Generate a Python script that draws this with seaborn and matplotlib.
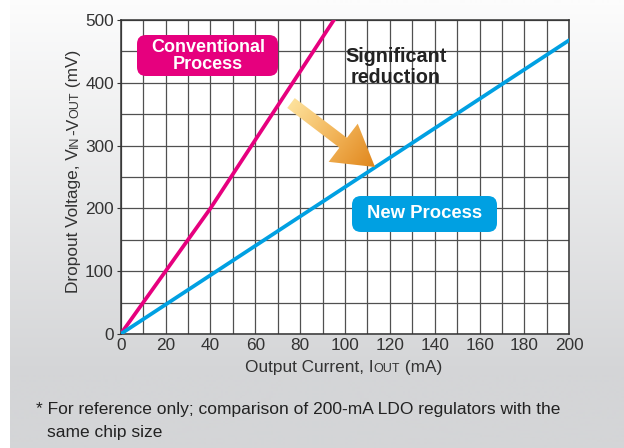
import numpy as np
import pandas as pd
import matplotlib
matplotlib.use("Agg")
import matplotlib.pyplot as plt
from matplotlib.patches import Polygon, FancyBboxPatch
from matplotlib.colors import LinearSegmentedColormap
import seaborn as sns

# ---------------- data ----------------
conv_current = [0, 40, 100]
conv_dropout = [0, 200, 527]
new_current = [0, 100, 200]
new_dropout = [0, 234, 468]
x_ticks = [0, 20, 40, 60, 80, 100, 120, 140, 160, 180, 200]
y_ticks = [0, 100, 200, 300, 400, 500]

df = pd.DataFrame({
    "current": conv_current + new_current,
    "dropout": conv_dropout + new_dropout,
    "process": ["Conventional Process"] * len(conv_current) + ["New Process"] * len(new_current),
})

PINK = "#e6007e"
BLUE = "#00a0e2"

sns.set_theme(style="white")
plt.rcParams["font.family"] = ["Liberation Sans", "DejaVu Sans"]

W, H = 624, 448
fig = plt.figure(figsize=(W / 100, H / 100), dpi=100)
fig.patch.set_facecolor("white")

# background card with vertical gradient
bg = fig.add_axes([10 / W, 0, 1 - 10 / W, 1], zorder=-5)
rows = np.arange(H)
frac = np.clip((rows - 5) / 370.0, 0, 1)
top = np.array([252, 252, 252]) / 255
bot = np.array([212, 213, 215]) / 255
grad = top[None, :] * (1 - frac[:, None]) + bot[None, :] * frac[:, None]
bg.imshow(grad[:, None, :], aspect="auto", extent=[0, 1, 0, 1], origin="upper")
bg.set_axis_off()

# main axes
x0p, x1p, y0p, y1p = 120.7, 569.3, 334.0, 20.0
ax = fig.add_axes([x0p / W, (H - y0p) / H, (x1p - x0p) / W, (y0p - y1p) / H])
ax.set_facecolor("white")

sns.lineplot(data=df, x="current", y="dropout", hue="process",
             palette={"Conventional Process": PINK, "New Process": BLUE},
             linewidth=2.7, legend=False, ax=ax, zorder=3)

TS = 12.4
ax.set_xlim(0, 200)
ax.set_ylim(0, 500)
ax.set_xticks(x_ticks)
ax.set_yticks(y_ticks)
ax.set_xticks(np.arange(0, 201, 10), minor=True)
ax.set_yticks(np.arange(0, 501, 50), minor=True)
ax.grid(True, which="both", color="#505050", linewidth=0.9)
ax.set_axisbelow(True)
for s in ax.spines.values():
    s.set_visible(True)
    s.set_color("#333333")
    s.set_linewidth(1.1)
ax.tick_params(axis="y", which="major", length=3, width=0.8, color="#333333", pad=2,
               labelsize=TS, labelcolor="#333333", left=True)
ax.tick_params(axis="x", which="major", length=0, pad=3, labelsize=TS, labelcolor="#333333")
ax.tick_params(which="minor", length=0)
ax.set_xlabel("")
ax.set_ylabel("")

# ---------------- helper for small-caps labels ----------------
fig.canvas.draw()
renderer = fig.canvas.get_renderer()


def measure(s, size, weight="normal"):
    t = fig.text(0, 0, s, fontsize=size, fontweight=weight)
    bb = t.get_window_extent(renderer)
    t.remove()
    return bb.width


def chain(pieces, cx, cy, rotation=0, color="#333333"):
    widths = [measure(s, sz) for s, sz in pieces]
    total = sum(widths)
    if rotation == 0:
        pos = cx - total / 2
        for (s, sz), w in zip(pieces, widths):
            fig.text(pos / W, (H - cy) / H, s, fontsize=sz, color=color,
                     ha="left", va="baseline")
            pos += w
    else:
        pos = cy + total / 2  # pixel y from top, start at bottom
        for (s, sz), w in zip(pieces, widths):
            fig.text(cx / W, (H - pos) / H, s, fontsize=sz, color=color,
                     ha="left", va="baseline", rotation=90, rotation_mode="anchor")
            pos -= w


chain([("Output Current, I", TS), ("OUT", 9), (" (mA)", TS)], 344, 372)
chain([("Dropout Voltage, V", TS), ("IN", 9), ("-V", TS), ("OUT", 9), (" (mV)", TS)], 78, 171,
      rotation=90)

# ---------------- annotations ----------------
def px2data(px, py):
    return ((px - x0p) / (x1p - x0p) * 200, (y0p - py) / (y0p - y1p) * 500)


def boxed(text, cx, cy, bx0, by0, bx1, by1, color, size, ls=1.0):
    (dx0, dy1) = px2data(bx0, by0)
    (dx1, dy0) = px2data(bx1, by1)
    box = FancyBboxPatch((dx0, dy0), dx1 - dx0, dy1 - dy0,
                         boxstyle="round,pad=0,rounding_size=4",
                         mutation_aspect=(500 / 314) / (200 / 448.6),
                         facecolor=color, edgecolor="none", zorder=5)
    ax.add_patch(box)
    tx, ty = px2data(cx, cy)
    ax.text(tx, ty, text, ha="center", va="center", color="white",
            fontsize=size, fontweight="bold", zorder=6, linespacing=ls)


boxed("Conventional\nProcess", 208, 56, 137, 35, 278, 76, PINK, 13, 1.07)
boxed("New Process", 425, 213, 352, 196, 497, 232, BLUE, 13.3)

sx, sy = px2data(396, 67)
ax.text(sx, sy, "Significant\nreduction", ha="center", va="center", color="#222222",
        fontsize=14.2, fontweight="bold", zorder=6, linespacing=1.18)

# gradient arrow (built in pixel space, converted to data space)
T = np.array([291.0, 103.0])
P = np.array([375.0, 167.0])
d = P - T
L = np.linalg.norm(d)
u = d / L
n = np.array([-u[1], u[0]])
hl, hw, sw = 40.0, 24.0, 6.2
B = P - u * hl
verts_px = [T + n * sw, B + n * sw, B + n * hw, P, B - n * hw, B - n * sw, T - n * sw]
verts = [px2data(*v) for v in verts_px]
poly = Polygon(verts, closed=True, facecolor="none", edgecolor="none", zorder=4)
ax.add_patch(poly)

xs = np.array([v[0] for v in verts_px])
ys = np.array([v[1] for v in verts_px])
gx0, gx1, gy0, gy1 = xs.min() - 2, xs.max() + 2, ys.min() - 2, ys.max() + 2
gxx, gyy = np.meshgrid(np.linspace(gx0, gx1, 200), np.linspace(gy0, gy1, 200))
t = ((gxx - T[0]) * u[0] + (gyy - T[1]) * u[1]) / L
cmap = LinearSegmentedColormap.from_list("arr", ["#fde19b", "#f2b55a", "#e0861c"])
ex0, ey_top = px2data(gx0, gy0)
ex1, ey_bot = px2data(gx1, gy1)
im = ax.imshow(t, cmap=cmap, vmin=0, vmax=1, origin="upper",
               extent=[ex0, ex1, ey_bot, ey_top], aspect="auto", zorder=4,
               interpolation="bilinear")
im.set_clip_path(poly)
ax.set_xlim(0, 200)
ax.set_ylim(0, 500)

# footnote
fig.text(36 / W, (H - 414) / H, "* For reference only; comparison of 200-mA LDO regulators with the",
         fontsize=12.5, color="#222222", ha="left", va="baseline")
fig.text(47 / W, (H - 437) / H, "same chip size",
         fontsize=12.5, color="#222222", ha="left", va="baseline")

fig.savefig("out.png", dpi=100)
